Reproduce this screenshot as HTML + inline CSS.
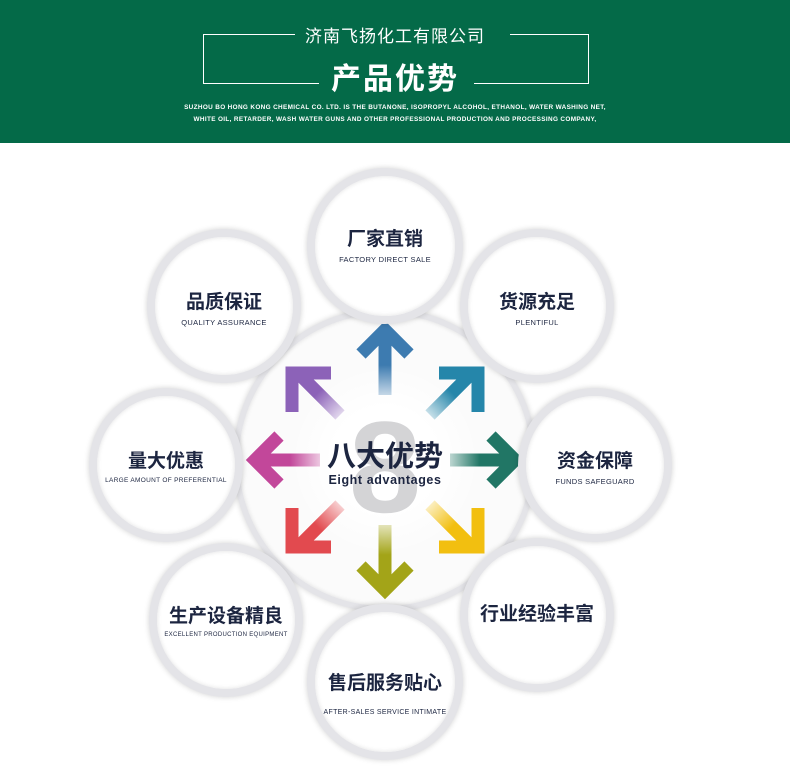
<!DOCTYPE html>
<html><head><meta charset="utf-8"><style>
body{margin:0;width:790px;height:774px;background:#fff;position:relative;overflow:hidden;font-family:"Liberation Sans","Noto Sans CJK SC",sans-serif}
.hdr{position:absolute;left:0;top:0;width:790px;height:143px;background:#046a48;color:#fff}
.t1{position:absolute;left:0;width:790px;top:22px;text-align:center;font-size:17px;letter-spacing:1px}
.t2{position:absolute;left:0;width:790px;top:54px;text-align:center;font-size:30px;font-weight:bold;letter-spacing:2px}
.ln{position:absolute;background:#fff}
.sm{position:absolute;left:0;width:790px;text-align:center;font-size:6.4px;font-weight:bold;letter-spacing:.35px}
.c{position:absolute;border-radius:50%;background:#fff;border:8px solid #e4e4e8;box-shadow:0 0 6px rgba(0,0,0,.18), inset 0 0 5px rgba(0,0,0,.12);box-sizing:border-box;text-align:center;color:#1c2540}
.c b{display:block;font-size:19px;margin-top:50px}
.c i{display:block;font-style:normal;font-size:7.5px;margin-top:4px;letter-spacing:.3px}
</style></head><body>
<div class="hdr">
<div class="t1">济南飞扬化工有限公司</div>
<div class="ln" style="left:203px;top:34px;width:92px;height:1px"></div>
<div class="ln" style="left:510px;top:34px;width:78px;height:1px"></div>
<div class="ln" style="left:203px;top:34px;width:1px;height:50px"></div>
<div class="ln" style="left:588px;top:34px;width:1px;height:50px"></div>
<div class="ln" style="left:203px;top:83px;width:116px;height:1px"></div>
<div class="ln" style="left:474px;top:83px;width:115px;height:1px"></div>
<div class="t2">产品优势</div>
<div class="sm" style="top:104px">SUZHOU BO HONG KONG CHEMICAL CO. LTD. IS THE BUTANONE, ISOPROPYL ALCOHOL, ETHANOL, WATER WASHING NET,</div>
<div class="sm" style="top:116px">WHITE OIL, RETARDER, WASH WATER GUNS AND OTHER PROFESSIONAL PRODUCTION AND PROCESSING COMPANY,</div>
</div>
<div class="c" style="left:233px;top:308px;width:304px;height:304px;border-width:6px;background:#fbfbfb"></div>
<svg style="position:absolute;left:0;top:0" width="790" height="774">
<defs><radialGradient id="g" cx="385" cy="460" r="95" gradientUnits="userSpaceOnUse"><stop offset="0.55" stop-color="#fff"/><stop offset="1" stop-color="#fff" stop-opacity="0"/></radialGradient></defs>
<g stroke-width="13" fill="none" stroke-linecap="butt">
<path d="M385 395V330M361 354L385 330L409 354" stroke="#3d7bb0"/>
<path d="M385 525V590M361 566L385 590L409 566" stroke="#a3a418"/>
<path d="M320 460H255M279 436L255 460L279 484" stroke="#c2479a"/>
<path d="M450 460H515M491 436L515 460L491 484" stroke="#217665"/>
<path d="M340 415L298 373M292 412V373H331" stroke="#8c62b8"/>
<path d="M430 415L472 373M478 412V373H439" stroke="#2586aa"/>
<path d="M340 505L298 547M292 508V547H331" stroke="#e24a4f"/>
<path d="M430 505L472 547M478 508V547H439" stroke="#f2bf10"/>
</g>
<circle cx="385" cy="460" r="95" fill="url(#g)"/>
<text x="385" y="512" text-anchor="middle" font-size="130" font-weight="bold" fill="#d4d4d6" font-family="Liberation Sans">8</text>
<text x="385" y="466" text-anchor="middle" font-size="29" font-weight="bold" fill="#1c2540" font-family="Liberation Sans,Noto Sans CJK SC,sans-serif">八大优势</text>
<text x="385" y="484" text-anchor="middle" font-size="12.5" font-weight="bold" fill="#1c2540" font-family="Liberation Sans" letter-spacing=".6">Eight advantages</text>
</svg>
<div class="c" style="left:307px;top:168px;width:156px;height:156px"><b style="margin-top:48px">厂家直销</b><i>FACTORY DIRECT SALE</i></div>
<div class="c" style="left:147px;top:229px;width:154px;height:154px"><b>品质保证</b><i>QUALITY ASSURANCE</i></div>
<div class="c" style="left:460px;top:229px;width:154px;height:154px"><b>货源充足</b><i>PLENTIFUL</i></div>
<div class="c" style="left:89px;top:388px;width:154px;height:154px"><b>量大优惠</b><i style="font-size:6.5px">LARGE AMOUNT OF PREFERENTIAL</i></div>
<div class="c" style="left:518px;top:388px;width:154px;height:154px"><b>资金保障</b><i>FUNDS SAFEGUARD</i></div>
<div class="c" style="left:149px;top:543px;width:154px;height:154px"><b>生产设备精良</b><i style="font-size:6px">EXCELLENT PRODUCTION EQUIPMENT</i></div>
<div class="c" style="left:460px;top:538px;width:154px;height:154px"><b style="margin-top:53px">行业经验丰富</b></div>
<div class="c" style="left:307px;top:604px;width:156px;height:156px"><b style="margin-top:56px">售后服务贴心</b><i style="margin-top:14px;font-size:7px">AFTER-SALES SERVICE INTIMATE</i></div>
</body></html>
